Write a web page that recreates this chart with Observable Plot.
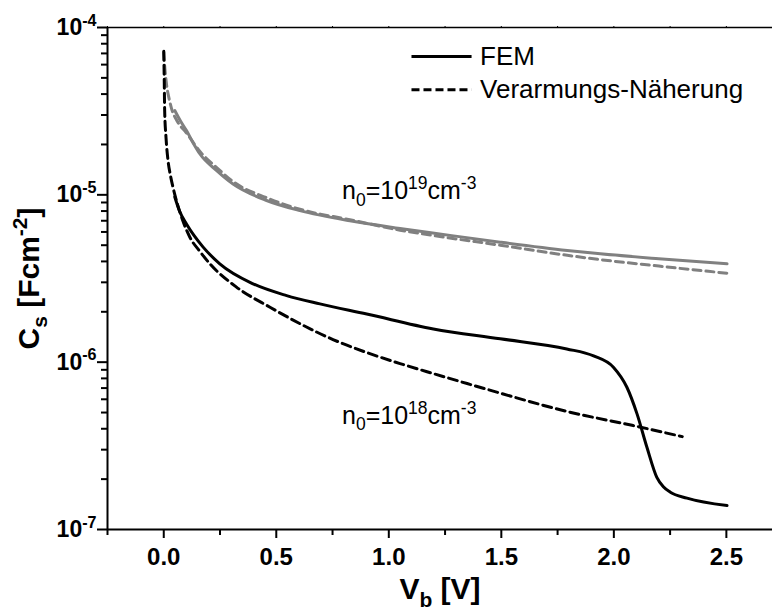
<!DOCTYPE html>
<html>
<head>
<meta charset="utf-8">
<script src="https://cdn.jsdelivr.net/npm/d3@7"></script>
<script src="https://cdn.jsdelivr.net/npm/@observablehq/plot@0.6"></script>
<style>
  html, body { margin: 0; padding: 0; background: #fff; }
  #chart { width: 772px; height: 612px; overflow: hidden; }
  #chart text { white-space: pre; }
</style>
</head>
<body>
<div id="chart"></div>
<script>
// ---- Data ----
// FEM, n0 = 1e19 cm^-3 (grey solid)
const femHighV = [0.049, 0.075, 0.101, 0.13, 0.160, 0.234, 0.308, 0.457, 0.605, 0.827, 1.05, 1.241, 1.495, 1.793, 1.94, 2.2, 2.503];
const femHighC = [3.19e-5, 2.75e-5, 2.42e-5, 2.05e-5, 1.76e-5, 1.40e-5, 1.16e-5, 9.25e-6, 8.05e-6, 7.0e-6, 6.3e-6, 5.8e-6, 5.21e-6, 4.65e-6, 4.44e-6, 4.15e-6, 3.87e-6];
// Verarmungs-Näherung, n0 = 1e19 cm^-3 (grey dashed)
const depHighV = [0.0, 0.005, 0.012, 0.022, 0.034, 0.06, 0.1, 0.16, 0.234, 0.308, 0.457, 0.605, 0.827, 1.05, 1.241, 1.495, 1.793, 1.94, 2.2, 2.503];
const depHighC = [7.1e-5, 5.7e-5, 4.6e-5, 3.85e-5, 3.3e-5, 2.75e-5, 2.35e-5, 1.82e-5, 1.46e-5, 1.2e-5, 9.6e-6, 8.2e-6, 7.1e-6, 6.15e-6, 5.6e-6, 5.0e-6, 4.35e-6, 4.1e-6, 3.75e-6, 3.40e-6];
// FEM, n0 = 1e18 cm^-3 (black solid)
const femLowV = [0.049, 0.07, 0.101, 0.135, 0.175, 0.249, 0.397, 0.546, 0.694, 0.902, 1.198, 1.495, 1.791, 1.91, 1.999, 2.058, 2.103, 2.147, 2.191, 2.22, 2.251, 2.325, 2.503];
const femLowC = [9.7e-6, 8.0e-6, 6.7e-6, 5.7e-6, 4.87e-6, 3.87e-6, 2.94e-6, 2.5e-6, 2.23e-6, 1.94e-6, 1.58e-6, 1.38e-6, 1.20e-6, 1.09e-6, 9.3e-7, 7.08e-7, 4.91e-7, 3.10e-7, 2.05e-7, 1.8e-7, 1.67e-7, 1.54e-7, 1.39e-7];
// Verarmungs-Näherung, n0 = 1e18 cm^-3 (black dashed)
const depLowV = [0.0, 0.002, 0.004, 0.01, 0.019, 0.03, 0.041, 0.056, 0.08, 0.116, 0.16, 0.205, 0.323, 0.472, 0.605, 0.752, 0.903, 1.05, 1.197, 1.348, 1.495, 1.793, 2.086, 2.304];
const depLowC = [7.2e-5, 5.0e-5, 3.19e-5, 2.2e-5, 1.6e-5, 1.3e-5, 1.11e-5, 9.25e-6, 7.3e-6, 5.58e-6, 4.6e-6, 3.87e-6, 2.81e-6, 2.13e-6, 1.70e-6, 1.365e-6, 1.14e-6, 9.81e-7, 8.55e-7, 7.45e-7, 6.53e-7, 5.07e-7, 4.18e-7, 3.59e-7];

// Ticks and texts
const xMajorTicks = [0, 0.5, 1.0, 1.5, 2.0, 2.5];
const xMinorTicks = [-0.25, 0.25, 0.75, 1.25, 1.75, 2.25];
const yDecades = [-7, -6, -5, -4];
const yMinorMultipliers = [2, 3, 4, 5, 6, 7, 8, 9];
const xTitle = "V_{b} [V]";
const yTitle = "C_{s} [Fcm^{-2}]";
const legendLabels = ["FEM", "Verarmungs-Näherung"];
const legendLineV = [1.103, 1.370];   // legend sample line extent (V)
const legendRowC = [6.71e-5, 4.25e-5]; // legend row heights (F/cm^2)
const labelTexts = ["n_{0}=10^{19}cm^{-3}", "n_{0}=10^{18}cm^{-3}"];
const labelV = [0.792, 0.792];
const labelC = [1.05e-5, 4.76e-7];

// ---- Build tables ----
const toRows = (V, C) => V.map((v, i) => ({v, c: C[i]}));
const femHigh = toRows(femHighV, femHighC);
const depHigh = toRows(depHighV, depHighC);
const femLow = toRows(femLowV, femLowC);
const depLow = toRows(depLowV, depLowC);
const yMajorTicks = yDecades.map(e => Math.pow(10, e));
const yMinorTicks = yDecades.slice(0, -1).flatMap(e => yMinorMultipliers.map(k => k * Math.pow(10, e)));
const legendRows = legendLabels.map((t, i) => ({t, c: legendRowC[i], x1: legendLineV[0], x2: legendLineV[1], dash: i === 1}));
const labelRows = labelTexts.map((t, i) => ({t, v: labelV[i], c: labelC[i]}));

const FONT = "'Liberation Sans', Arial, Helvetica, sans-serif";
const TITLE_FONT = "'Liberation Sans Narrow', 'Arial Narrow', 'Liberation Sans', Arial, sans-serif";
const GREY = "#808080";

const chart = Plot.plot({
  width: 772,
  height: 612,
  marginLeft: 107,
  marginRight: 0,
  marginTop: 27,
  marginBottom: 83,
  style: {fontFamily: FONT, background: "#fff", color: "#000"},
  x: {domain: [-0.25, 2.705], label: null},
  y: {type: "log", domain: [1e-7, 1e-4], label: null},
  marks: [
    // frame spines
    Plot.ruleY([1e-4], {stroke: "#000", strokeWidth: 1.5}),
    Plot.ruleX([-0.25], {stroke: "#000", strokeWidth: 2}),
    Plot.ruleY([1e-7], {stroke: "#000", strokeWidth: 2}),
    // axis ticks
    Plot.axisX({ticks: xMajorTicks, tickSize: 9, tickFormat: () => "", strokeWidth: 2}),
    Plot.axisX({ticks: xMinorTicks, tickSize: 6, tickFormat: () => "", strokeWidth: 2}),
    Plot.axisX({anchor: "top", ticks: [...xMajorTicks, ...xMinorTicks], tickSize: 2, tickFormat: () => ""}),
    Plot.axisY({ticks: yMajorTicks, tickSize: 10, tickFormat: () => "", strokeWidth: 2}),
    Plot.axisY({ticks: yMinorTicks, tickSize: 6, tickFormat: () => "", strokeWidth: 2}),
    // tick labels
    Plot.text(xMajorTicks, {x: d => d, frameAnchor: "bottom", dy: 18, lineAnchor: "top", textAnchor: "middle",
      text: d3.format(".1f"), fontSize: 24, fontWeight: "bold", fill: "#000"}),
    Plot.text(yMajorTicks, {y: d => d, frameAnchor: "left", dx: -11, lineAnchor: "middle", textAnchor: "end",
      text: d => `10^{${Math.round(Math.log10(d))}}`, fontSize: 23, fontWeight: "bold", fill: "#000"}),
    // curves
    Plot.line(femHigh, {x: "v", y: "c", stroke: GREY, strokeWidth: 3, curve: "monotone-x"}),
    Plot.line(depHigh, {x: "v", y: "c", stroke: GREY, strokeWidth: 3, strokeDasharray: "8,5", curve: "monotone-x"}),
    Plot.line(femLow, {x: "v", y: "c", stroke: "#000", strokeWidth: 3, curve: "monotone-x"}),
    Plot.line(depLow, {x: "v", y: "c", stroke: "#000", strokeWidth: 3, strokeDasharray: "9,5", curve: "monotone-x"}),
    // legend
    Plot.ruleY(legendRows.filter(d => !d.dash), {y: "c", x1: "x1", x2: "x2", stroke: "#000", strokeWidth: 3}),
    Plot.ruleY(legendRows.filter(d => d.dash), {y: "c", x1: "x1", x2: "x2", stroke: "#000", strokeWidth: 3, strokeDasharray: "8,4"}),
    Plot.text(legendRows, {x: "x2", y: "c", text: "t", dx: 8, textAnchor: "start", lineAnchor: "middle", fontSize: 26, fill: "#000"}),
    // curve annotations
    Plot.text(labelRows, {x: "v", y: "c", text: "t", textAnchor: "start", lineAnchor: "middle", fontSize: 25, fill: "#000"}),
    // axis titles
    Plot.text([xTitle], {frameAnchor: "bottom", dy: 60, lineAnchor: "middle", textAnchor: "middle", fontSize: 30, fontWeight: "bold", fontFamily: TITLE_FONT, fill: "#000"}),
    Plot.text([yTitle], {frameAnchor: "left", dx: -78, rotate: -90, lineAnchor: "middle", textAnchor: "middle", fontSize: 30, fontWeight: "bold", fontFamily: TITLE_FONT, fill: "#000"})
  ]
});

// convert ^{..} and _{..} markup into real super/subscript tspans
const SCALE = 0.7, RISE = 0.4, DROP = 0.25;
function richText(root) {
  d3.select(root).selectAll("text").each(function() {
    const s = this.textContent;
    if (!/[\^_]\{/.test(s)) return;
    const parts = [];
    const re = /([\^_])\{([^}]*)\}|([^\^_]+)/g;
    let m;
    while ((m = re.exec(s))) parts.push(m[3] != null ? {t: m[3], k: 0} : {t: m[2], k: m[1] === "^" ? 1 : -1});
    const sel = d3.select(this);
    sel.text(null);
    let offset = 0;
    for (const p of parts) {
      const ts = sel.append("tspan").text(p.t);
      if (p.k === 0) {
        if (offset !== 0) ts.attr("dy", `${offset}em`);
        offset = 0;
      } else {
        const target = p.k === 1 ? RISE : -DROP;
        const delta = target - offset;
        ts.attr("font-size", `${SCALE}em`).attr("dy", `${-delta / SCALE}em`);
        offset = target;
      }
    }
  });
}
richText(chart);

document.getElementById("chart").appendChild(chart);
</script>
</body>
</html>
